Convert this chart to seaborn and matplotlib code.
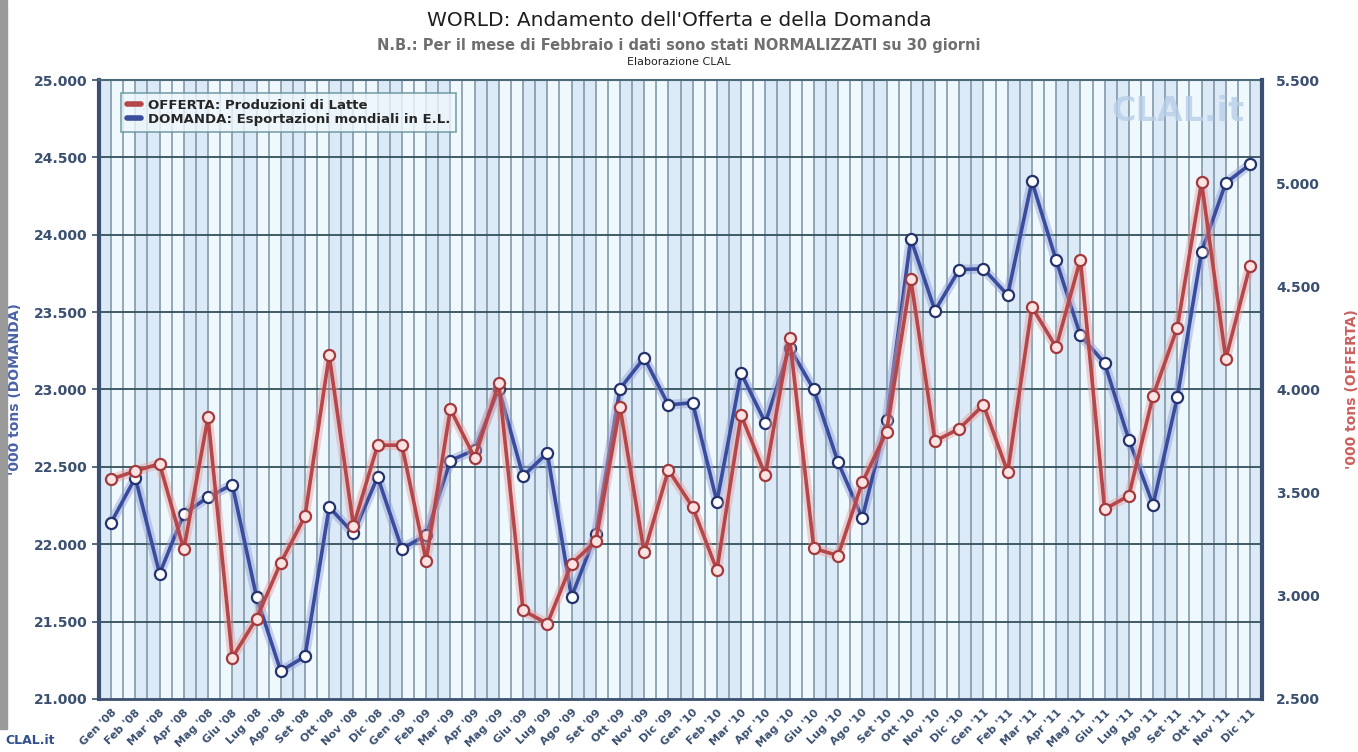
import matplotlib
matplotlib.use("Agg")
import matplotlib.pyplot as plt
import numpy as np
import pandas as pd
import seaborn as sns
from matplotlib.lines import Line2D
from matplotlib.patches import Rectangle
from matplotlib.ticker import FuncFormatter, FixedLocator

# --- data (thousand tons) ---
months = ["Gen", "Feb", "Mar", "Apr", "Mag", "Giu", "Lug", "Ago", "Set", "Ott", "Nov", "Dic"]
years = ["08", "09", "10", "11"]
labels = [f"{m} '{y}" for y in years for m in months]

domanda = [22140, 22430, 21810, 22195, 22305, 22385, 21660, 21180, 21275, 22240, 22070, 22435,
           21970, 22060, 22540, 22610, 23005, 22440, 22590, 21660, 22065, 23005, 23205, 22900,
           22915, 22275, 23105, 22785, 23270, 23000, 22530, 22170, 22800, 23975, 23510, 23775,
           23780, 23610, 24345, 23835, 23350, 23170, 22675, 22255, 22950, 23890, 24335, 24455]

offerta = [3565, 3605, 3640, 3225, 3865, 2700, 2890, 3160, 3385, 4165, 3340, 3730,
           3730, 3170, 3905, 3670, 4030, 2930, 2865, 3155, 3265, 3915, 3210, 3610,
           3430, 3125, 3875, 3585, 4250, 3230, 3195, 3550, 3795, 4535, 3750, 3810,
           3925, 3600, 4400, 4205, 4630, 3420, 3485, 3970, 4300, 5005, 4150, 4600]

left_ticks = [21000, 21500, 22000, 22500, 23000, 23500, 24000, 24500, 25000]
right_ticks = [2500, 3000, 3500, 4000, 4500, 5000, 5500]

df = pd.DataFrame({"pos": np.arange(len(labels)), "mese": labels,
                   "domanda": domanda, "offerta": offerta})

BLUE = "#3a4c9c"
RED = "#b5474a"
AXCOL = "#3b5070"
GRID = "#7b92a2"

sns.set_style("white")
plt.rcParams["font.family"] = ["DejaVu Sans"]

fig = plt.figure(figsize=(13.58, 7.52), dpi=100)
ax = fig.add_axes([0.0729, 0.0705, 0.8565, 0.8231])
ax2 = ax.twinx()

# striped background
ax.set_facecolor("#eff8fd")
for i in range(len(labels)):
    if i % 2 == 0:
        ax.axvspan(i - 0.5, i, color="#dce9f6", zorder=0, lw=0)
    else:
        ax.axvspan(i, i + 0.5, color="#dce9f6", zorder=0, lw=0)

for k in np.arange(-0.5, len(labels), 0.5):
    ax.axvline(k, color=GRID, lw=1.1, zorder=1)
for t in left_ticks[1:-1]:
    ax.axhline(t, color="#34505c", lw=1.3, zorder=1)

ax.set_xlim(-0.5, len(labels) - 0.5)
ax.set_ylim(21000, 25000)
ax2.set_ylim(2500, 5500)

# glow under the lines
sns.lineplot(data=df, x="pos", y="offerta", ax=ax2, color="#e8a0a0", lw=7, alpha=0.45, zorder=2)
sns.lineplot(data=df, x="pos", y="domanda", ax=ax, color="#8f9fd8", lw=7, alpha=0.45, zorder=2)

sns.lineplot(data=df, x="pos", y="domanda", ax=ax, color=BLUE, lw=2.6, zorder=3,
             marker="o", markersize=8, markerfacecolor="white", markeredgecolor="#24336e",
             markeredgewidth=1.6)
sns.lineplot(data=df, x="pos", y="offerta", ax=ax2, color=RED, lw=2.6, zorder=3,
             marker="o", markersize=8, markerfacecolor="#fbe3e3", markeredgecolor="#a33a3d",
             markeredgewidth=1.6)

ax2.set_zorder(ax.get_zorder() + 1)
ax2.patch.set_visible(False)

fmt = FuncFormatter(lambda v, p: f"{int(v):,}".replace(",", "."))
ax.yaxis.set_major_locator(FixedLocator(left_ticks))
ax.yaxis.set_major_formatter(fmt)
ax2.yaxis.set_major_locator(FixedLocator(right_ticks))
ax2.yaxis.set_major_formatter(fmt)

ax.set_xticks(df["pos"])
ax.set_xticklabels(df["mese"], rotation=45, ha="right", rotation_mode="anchor",
                   fontsize=8, fontweight="bold", color=AXCOL)
ax.tick_params(axis="x", length=5, width=1.2, color=AXCOL, pad=1)
ax.tick_params(axis="y", length=5, width=1.2, color=AXCOL, labelsize=10, labelcolor=AXCOL)
for lab in ax.get_yticklabels():
    lab.set_fontweight("bold")
ax2.tick_params(axis="y", length=0, labelsize=10, labelcolor=AXCOL, pad=10)
for lab in ax2.get_yticklabels():
    lab.set_fontweight("bold")

ax.set_xlabel("")
ax.set_ylabel("'000 tons (DOMANDA)", color="#4a62a8", fontsize=10, fontweight="bold", labelpad=8)
ax2.set_ylabel("'000 tons (OFFERTA)", color="#c9605e", fontsize=10, fontweight="bold",
               labelpad=18, rotation=90)

for a in (ax, ax2):
    for s in a.spines.values():
        s.set_visible(False)
ax.spines["left"].set_visible(True)
ax.spines["left"].set_color(AXCOL)
ax.spines["left"].set_linewidth(3)
ax.spines["bottom"].set_visible(True)
ax.spines["bottom"].set_color(AXCOL)
ax.spines["bottom"].set_linewidth(2)
ax.spines["top"].set_visible(True)
ax.spines["top"].set_color("#4d6a78")
ax.spines["top"].set_linewidth(1.5)
ax2.spines["right"].set_visible(True)
ax2.spines["right"].set_color(AXCOL)
ax2.spines["right"].set_linewidth(3)

handles = [Line2D([0], [0], color=RED, lw=4), Line2D([0], [0], color=BLUE, lw=4)]
leg = ax.legend(handles, ["OFFERTA: Produzioni di Latte", "DOMANDA: Esportazioni mondiali in E.L."],
                loc="upper left", bbox_to_anchor=(0.013, 0.99), frameon=True, fancybox=False,
                prop={"weight": "bold", "size": 9.5}, handlelength=1.1, handletextpad=0.5,
                labelspacing=0.1, borderpad=0.45)
leg.get_frame().set_edgecolor("#5f8f98")
leg.get_frame().set_facecolor("#eef7fc")
leg.get_frame().set_linewidth(1.2)
leg.set_zorder(10)

ax.text(0.985, 0.975, "CLAL.it", transform=ax.transAxes, ha="right", va="top",
        fontsize=24, fontweight="bold", color="#b8cfe8", alpha=0.8, zorder=1)

fig.text(0.5, 0.973, "WORLD: Andamento dell'Offerta e della Domanda", ha="center", va="center",
         fontsize=14.5, color="#1e1e1e")
fig.text(0.5, 0.940, "N.B.: Per il mese di Febbraio i dati sono stati NORMALIZZATI su 30 giorni",
         ha="center", va="center", fontsize=10.5, fontweight="bold", color="#6f6f6f")
fig.text(0.5, 0.917, "Elaborazione CLAL", ha="center", va="center", fontsize=8, color="#222222")
fig.text(0.004, 0.015, "CLAL.it", ha="left", va="center", fontsize=9, fontweight="bold",
         color="#2f4f8f")

fig.patches.append(Rectangle((0, 0.03), 0.005, 0.97, transform=fig.transFigure,
                             color="#9a9a9a", zorder=0))

fig.savefig("out.png", dpi=100)
